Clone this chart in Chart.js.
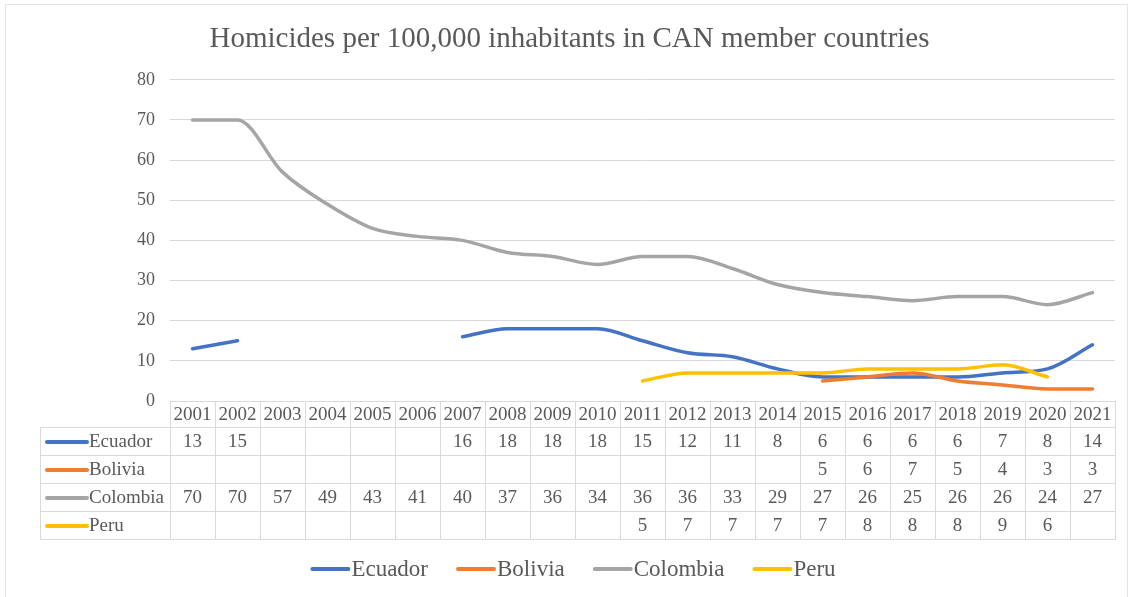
<!DOCTYPE html>
<html>
<head>
<meta charset="utf-8">
<title>Homicides per 100,000 inhabitants</title>
<script src="https://cdn.jsdelivr.net/npm/chart.js@4/dist/chart.umd.min.js"></script>
<style>
    html, body { margin: 0; padding: 0; background: #fff; }
</style>
</head>
<body>
<canvas id="homicides" width="1130" height="597"></canvas>
<script>
const years = ['2001', '2002', '2003', '2004', '2005', '2006', '2007', '2008', '2009', '2010', '2011',
               '2012', '2013', '2014', '2015', '2016', '2017', '2018', '2019', '2020', '2021'];

const ecuador  = [13, 15, null, null, null, null, 16, 18, 18, 18, 15, 12, 11, 8, 6, 6, 6, 6, 7, 8, 14];
const bolivia  = [null, null, null, null, null, null, null, null, null, null, null, null, null, null, 5, 6, 7, 5, 4, 3, 3];
const colombia = [70, 70, 57, 49, 43, 41, 40, 37, 36, 34, 36, 36, 33, 29, 27, 26, 25, 26, 26, 24, 27];
const peru     = [null, null, null, null, null, null, null, null, null, null, 5, 7, 7, 7, 7, 8, 8, 8, 9, 6, null];

const yMin = 0;
const yMax = 80;
const yStep = 10;

const textColor = '#595959';
const ruleColor = '#d9d9d9';
const serif = "'Liberation Serif', 'Times New Roman', serif";

function series(label, data, color, order) {
    return {
        label: label,
        data: data,
        borderColor: color,
        backgroundColor: color,
        borderWidth: 3.5,
        borderCapStyle: 'round',
        borderJoinStyle: 'round',
        pointRadius: 0,
        pointHoverRadius: 0,
        cubicInterpolationMode: 'monotone',
        spanGaps: false,
        order: order
    };
}

// white background plus the thin frame round the whole chart
const frame = {
    id: 'frame',
    beforeDraw(chart) {
        const ctx = chart.ctx;
        ctx.save();
        ctx.fillStyle = '#fff';
        ctx.fillRect(0, 0, chart.width, chart.height);
        ctx.strokeStyle = '#e3e3e3';
        ctx.lineWidth = 1;
        ctx.strokeRect(5.5, 4.5, chart.width - 8, chart.height - 2);
        ctx.restore();
    }
};

// data table under the plot, one column per category, plus the legend row
const dataTable = {
    id: 'dataTable',
    afterDraw(chart) {
        const {ctx, chartArea, scales: {x}} = chart;
        const sets = chart.data.datasets;
        const colWidth = chartArea.width / years.length;
        const top = chartArea.bottom;
        const headerHeight = 26;
        const rowHeight = 28;
        const labelLeft = 40.5;
        const bottom = top + headerHeight + sets.length * rowHeight;
        const px = v => Math.round(v) + 0.5;

        ctx.save();
        ctx.strokeStyle = ruleColor;
        ctx.lineWidth = 1;
        ctx.beginPath();
        ctx.moveTo(px(chartArea.left), px(top));
        ctx.lineTo(px(chartArea.right), px(top));
        for (let r = 0; r <= sets.length; r++) {
            const y = px(top + headerHeight + r * rowHeight);
            ctx.moveTo(labelLeft, y);
            ctx.lineTo(px(chartArea.right), y);
        }
        ctx.moveTo(labelLeft, px(top + headerHeight));
        ctx.lineTo(labelLeft, px(bottom));
        for (let i = 0; i <= years.length; i++) {
            const lx = px(chartArea.left + i * colWidth);
            ctx.moveTo(lx, px(top));
            ctx.lineTo(lx, px(bottom));
        }
        ctx.stroke();

        ctx.fillStyle = textColor;
        ctx.font = '19px ' + serif;
        ctx.textAlign = 'center';
        ctx.textBaseline = 'middle';
        years.forEach((year, i) => {
            ctx.fillText(year, x.getPixelForValue(i), top + headerHeight / 2 + 1);
        });

        sets.forEach((ds, r) => {
            const cy = top + headerHeight + r * rowHeight + rowHeight / 2 + 1;
            ctx.strokeStyle = ds.borderColor;
            ctx.lineWidth = 4;
            ctx.lineCap = 'round';
            ctx.beginPath();
            ctx.moveTo(47, cy);
            ctx.lineTo(87, cy);
            ctx.stroke();
            ctx.textAlign = 'left';
            ctx.fillText(ds.label, 89, cy);
            ctx.textAlign = 'center';
            ds.data.forEach((v, i) => {
                if (v !== null) ctx.fillText(String(v), x.getPixelForValue(i), cy);
            });
        });

        // legend
        ctx.font = '23px ' + serif;
        ctx.textAlign = 'left';
        const sample = 38;
        const gap = 3;
        const spacing = 28;
        const widths = sets.map(ds => sample + gap + ctx.measureText(ds.label).width);
        const total = widths.reduce((a, b) => a + b, 0) + spacing * (sets.length - 1);
        let lx = (chart.width - total) / 2 + 8;
        const ly = 569;
        sets.forEach((ds, k) => {
            ctx.strokeStyle = ds.borderColor;
            ctx.lineWidth = 4;
            ctx.beginPath();
            ctx.moveTo(lx + 2, ly);
            ctx.lineTo(lx + sample, ly);
            ctx.stroke();
            ctx.fillText(ds.label, lx + sample + gap, ly + 1);
            lx += widths[k] + spacing;
        });
        ctx.restore();
    }
};

new Chart(document.getElementById('homicides').getContext('2d'), {
    type: 'line',
    data: {
        labels: years,
        datasets: [
            series('Ecuador', ecuador, '#4472c4', 3),
            series('Bolivia', bolivia, '#ed7d31', 2),
            series('Colombia', colombia, '#a5a5a5', 1),
            series('Peru', peru, '#ffc000', 0)
        ]
    },
    options: {
        responsive: false,
        animation: false,
        layout: {
            padding: {left: 24, right: 15, top: 0, bottom: 196}
        },
        plugins: {
            legend: {display: false},
            tooltip: {enabled: false},
            title: {
                display: true,
                text: 'Homicides per 100,000 inhabitants in CAN member countries',
                color: textColor,
                font: {family: serif, size: 29, weight: 'normal'},
                padding: {top: 22, bottom: 23}
            }
        },
        scales: {
            x: {
                display: false,
                offset: true
            },
            y: {
                min: yMin,
                max: yMax,
                ticks: {
                    stepSize: yStep,
                    color: textColor,
                    font: {family: serif, size: 18},
                    padding: 15
                },
                grid: {
                    color: ruleColor,
                    lineWidth: 1,
                    drawTicks: false
                },
                border: {display: false},
                afterFit(scale) {
                    scale.width = 146;
                }
            }
        }
    },
    plugins: [frame, dataTable]
});
</script>
</body>
</html>
